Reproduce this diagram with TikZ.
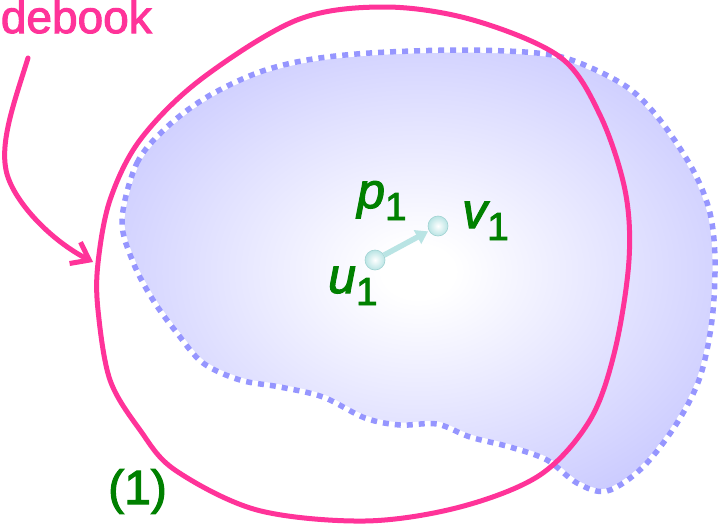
\documentclass[tikz,border=0pt]{standalone}
\usepackage{fontspec}
\setmainfont{Liberation Sans}[FakeBold=2.2]
\usetikzlibrary{arrows.meta}
\definecolor{pinkc}{RGB}{255,51,153}
\definecolor{lav}{RGB}{200,200,255}
\definecolor{dotc}{RGB}{150,150,255}
\definecolor{grn}{RGB}{0,128,0}
\definecolor{cy}{RGB}{185,228,228}
\definecolor{cyedge}{RGB}{160,210,210}
\pgfdeclareradialshading{lavshade}{\pgfpoint{0bp}{0bp}}{color(0bp)=(white); color(3bp)=(white); color(31bp)=(lav); color(55bp)=(lav)}
\newcommand\mlab[2]{{\fontsize{50}{50}\selectfont\itshape #1}\raisebox{-12pt}{\fontsize{39}{39}\selectfont #2}}
\def\bluepath{plot[smooth cycle,tension=0.55] coordinates {(122,220) (137,163) (167,127) (207,97) (257,73) (307,60) (370,53) (460,50) (537,53) (577,62) (627,87) (660,120) (693,170) (710,213) (715,260) (712,320) (700,377) (677,423) (643,467) (607,491) (577,483) (547,460) (510,447) (470,437) (437,424) (400,425) (365,418) (323,397) (280,387) (240,380) (203,363) (177,333) (153,300) (133,262)}}
\def\pinkpath{plot[smooth cycle,tension=0.55] coordinates {(98,263) (98,310) (110,380) (140,430) (175,470) (257,510) (365,521) (460,507) (540,475) (590,420) (615,350) (629,260) (625,190) (600,115) (560,57) (473,20) (385,7) (297,20) (200,80) (140,140) (110,200)}}
\begin{document}
\begin{tikzpicture}[x=1pt,y=-1pt,
  lbl/.style={inner sep=0pt, text=grn, anchor=base west},
  ball/.style={circle, minimum size=20pt, inner sep=0pt, inner color=white, outer color=cy, draw=cyedge, line width=0.6pt},
  cyarrow/.style={draw=cy, line width=5.5pt, -{Triangle[length=12pt,width=15pt]}, shorten >=1pt},
  pinkline/.style={draw=pinkc, line width=5pt},
  barb/.style={pinkline, line cap=round, -{Straight Barb[length=16pt,width=24pt]}}]
\useasboundingbox (0,0) rectangle (720,525);
\clip (0,0) rectangle (720,525);
% blue region
\shade[shading=lavshade] \bluepath;
\draw[white, line width=5pt] \bluepath;
\draw[dotc, line width=5.5pt, dash pattern=on 6pt off 6pt] \bluepath;
% pink closed curve
\draw[pinkline] \pinkpath;
% texts
\node[inner sep=0pt, anchor=base east, text=pinkc, font=\fontsize{46}{46}\selectfont] (debook) at (152,33) {debook};
\node[lbl, font=\fontsize{48}{48}\selectfont] (one) at (108,504) {(1)};
\node[lbl] (p1) at (357,208) {\mlab{p}{1}};
\node[lbl] (v1) at (462,228) {\mlab{v}{1}};
\node[lbl] (u1) at (328,293) {\mlab{u}{1}};
% balls and arrow
\node[ball] (u) at (375,260) {};
\node[ball] (v) at (438,226) {};
\draw[cyarrow] (u) -- (v);
% pointer arrow
\coordinate (s) at (28,58);
\coordinate (m) at (6,170);
\coordinate (t) at (93,262);
\draw[barb] (s) .. controls (15,100) and (0,140) .. (m) .. controls (12,200) and (50,240) .. (t);
\end{tikzpicture}
\end{document}
